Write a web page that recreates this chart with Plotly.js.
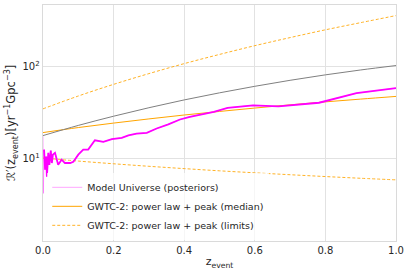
<!DOCTYPE html>
<html>
<head>
<meta charset="utf-8">
<script src="https://cdn.plot.ly/plotly-3.0.1.min.js"></script>
<style>html,body{margin:0;padding:0;background:#fff}#chart{width:409px;height:275px}</style>
</head>
<body>
<div id="chart"></div>
<script>
// Smooth model curves
var zGrid = [0.0, 0.1, 0.2, 0.3, 0.4, 0.5, 0.6, 0.7, 0.8, 0.9, 1.0];
var gwtcMedian = [19.3, 21.9, 24.5, 27.2, 30.0, 32.8, 35.7, 38.7, 41.7, 44.7, 47.8];
var gwtcUpper = [35.0, 48.3, 64.7, 84.7, 108.8, 137, 170.6, 209, 254, 304, 363];
var gwtcLower = [10.2, 9.45, 8.83, 8.29, 7.82, 7.40, 7.04, 6.71, 6.41, 6.14, 5.90];
var sfrCurve = [17.9, 23.1, 29.1, 36.0, 43.8, 52.3, 61.6, 71.6, 82.1, 92.8, 103.7];

// Model Universe (posteriors)
var spikeZ = [0.0, 0.001];
var spikeR = [17.6, 4.2];
var modelZ = [0.003, 0.006, 0.009, 0.011, 0.015, 0.018, 0.022, 0.025, 0.028, 0.034, 0.043, 0.053, 0.062, 0.077, 0.086, 0.100, 0.114, 0.128, 0.147, 0.171, 0.195, 0.223, 0.242, 0.265, 0.294, 0.322, 0.355, 0.388, 0.416, 0.484, 0.523, 0.595, 0.667, 0.782, 0.888, 1.0];
var modelR = [12.6, 7.6, 10.6, 6.4, 11.6, 8.6, 12.3, 9.0, 11.1, 11.6, 8.6, 9.8, 9.0, 9.0, 9.3, 11.1, 12.6, 12.6, 15.9, 15.3, 16.4, 16.9, 18.0, 18.8, 19.2, 21.4, 23.7, 26.8, 28.7, 32.4, 35.9, 38.2, 37.3, 40.8, 51.8, 58.8];

var legendLabels = ["Model Universe (posteriors)", "GWTC-2: power law + peak (median)", "GWTC-2: power law + peak (limits)"];
var xTicks = [0.0, 0.2, 0.4, 0.6, 0.8, 1.0];
var yTicks = [10, 100];
var yTickText = ["10<sup>1</sup>", "10<sup>2</sup>"];

var orange = "#ffa500";
var dashOrange = "rgba(255,165,0,0.85)";
var traces = [
  {x: spikeZ.concat(modelZ), y: spikeR.concat(modelR), mode: "lines", name: legendLabels[0],
   legendrank: 1, line: {color: "rgba(255,0,255,0.35)", width: 1}},
  {x: zGrid, y: gwtcMedian, mode: "lines", name: legendLabels[1], legendrank: 2,
   line: {color: orange, width: 1, shape: "spline"}},
  {x: zGrid, y: gwtcUpper, mode: "lines", name: legendLabels[2], legendrank: 3,
   line: {color: dashOrange, width: 1, dash: "3px,2px", shape: "spline"}},
  {x: zGrid, y: gwtcLower, mode: "lines", showlegend: false,
   line: {color: dashOrange, width: 1, dash: "3px,2px", shape: "spline"}},
  {x: zGrid, y: sfrCurve, mode: "lines", showlegend: false,
   line: {color: "#808080", width: 1, shape: "spline"}},
  {x: modelZ, y: modelR, mode: "lines", showlegend: false,
   line: {color: "#ff00ff", width: 1.8}}
];

var layout = {
  width: 409, height: 275,
  margin: {l: 43, r: 13, t: 5, b: 34},
  paper_bgcolor: "#fff", plot_bgcolor: "#fff",
  font: {family: "DejaVu Sans", size: 10, color: "#262626"},
  showlegend: true,
  legend: {x: 0.012, y: 0.005, xanchor: "left", yanchor: "bottom",
           bgcolor: "rgba(255,255,255,0.7)", borderwidth: 0,
           font: {family: "DejaVu Sans", size: 9.5, color: "#262626"},
           tracegroupgap: 0, traceorder: "normal"},
  xaxis: {range: [0, 1], tickvals: xTicks, ticktext: xTicks.map(function(v){return v.toFixed(1);}),
          showgrid: true, gridcolor: "#e2e2e2", gridwidth: 1,
          showline: true, linecolor: "#dadada", linewidth: 1.3, mirror: true,
          ticks: "", zeroline: false,
          title: {text: "z<sub>event</sub>", font: {size: 11}, standoff: 2}},
  yaxis: {type: "log", range: [0.105, 2.675], tickvals: yTicks, ticktext: yTickText,
          showgrid: true, gridcolor: "#e2e2e2", gridwidth: 1,
          showline: true, linecolor: "#dadada", linewidth: 1.3, mirror: true,
          ticks: "", zeroline: false,
          title: {text: "ℛ′(z<sub>event</sub>)[yr<sup>−1</sup>Gpc<sup>−3</sup>]", font: {size: 11.5}, standoff: 4}}
};

Plotly.newPlot("chart", traces, layout, {staticPlot: true, displayModeBar: false});
</script>
</body>
</html>
